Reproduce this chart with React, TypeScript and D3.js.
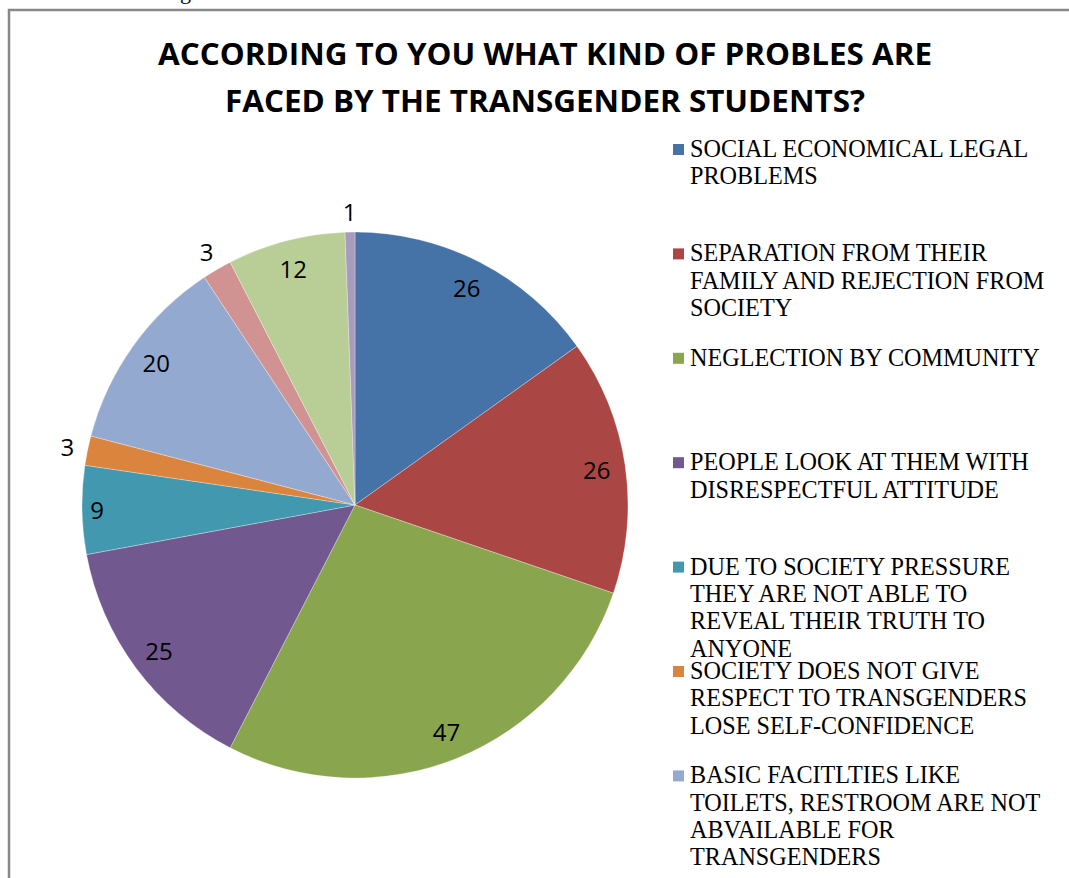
import React from "react";
import * as d3 from "d3";

const categories: string[] = [
  "SOCIAL ECONOMICAL LEGAL PROBLEMS",
  "SEPARATION FROM THEIR FAMILY AND REJECTION FROM SOCIETY",
  "NEGLECTION BY COMMUNITY",
  "PEOPLE LOOK AT THEM WITH DISRESPECTFUL ATTITUDE",
  "DUE TO SOCIETY PRESSURE THEY ARE NOT ABLE TO REVEAL THEIR TRUTH TO ANYONE",
  "SOCIETY DOES NOT GIVE RESPECT TO TRANSGENDERS LOSE SELF-CONFIDENCE",
  "BASIC FACITLTIES LIKE TOILETS, RESTROOM ARE NOT ABVAILABLE FOR TRANSGENDERS",
  "(not shown 8)",
  "(not shown 9)",
  "(not shown 10)",
];

// Legend lines as wrapped in the reference (only the first 7 fit in the legend)
const legendLines: string[][] = [
  ["SOCIAL ECONOMICAL LEGAL", "PROBLEMS"],
  ["SEPARATION FROM THEIR", "FAMILY AND REJECTION FROM", "SOCIETY"],
  ["NEGLECTION BY COMMUNITY"],
  ["PEOPLE LOOK AT THEM WITH", "DISRESPECTFUL ATTITUDE"],
  ["DUE TO SOCIETY PRESSURE", "THEY ARE NOT ABLE TO", "REVEAL THEIR TRUTH TO", "ANYONE"],
  ["SOCIETY DOES NOT GIVE", "RESPECT TO TRANSGENDERS", "LOSE SELF-CONFIDENCE"],
  ["BASIC FACITLTIES LIKE", "TOILETS, RESTROOM ARE NOT", "ABVAILABLE FOR", "TRANSGENDERS"],
];

const values: number[] = [26, 26, 47, 25, 9, 3, 20, 3, 12, 1];

const colors: string[] = [
  "#4572A7",
  "#AA4643",
  "#89A54E",
  "#71588F",
  "#4198AF",
  "#DB843D",
  "#93A9CF",
  "#D19392",
  "#B9CD96",
  "#A99BBD",
];

const titleLines: string[] = [
  "ACCORDING TO YOU WHAT KIND OF PROBLES ARE",
  "FACED BY THE TRANSGENDER  STUDENTS?",
];

export default function App() {
  const W = 1069;
  const H = 878;
  const cx = 355;
  const cy = 505;
  const r = 273;

  const data = categories.map((c, i) => ({ c, v: values[i], i }));
  const pie = d3
    .pie<{ c: string; v: number; i: number }>()
    .sort(null)
    .value((d) => d.v)
    .startAngle(0)
    .endAngle(2 * Math.PI);
  const arcs = pie(data);
  const arc = d3
    .arc<d3.PieArcDatum<{ c: string; v: number; i: number }>>()
    .innerRadius(0)
    .outerRadius(r);

  const labelR = (v: number) => (v < 5 ? r * 1.075 : v < 10 ? r * 0.945 : r * 0.895);

  const legendX = 673;
  const legendTop = 157;
  const legendStep = 104.4;
  const lineH = 27.3;

  return (
    <svg
      width={W}
      height={H}
      style={{ position: "absolute", left: 0, top: 0, background: "#fff" }}
    >
      <rect x={0} y={0} width={W} height={H} fill="#fff" />
      <text x={180} y={-1} fontFamily="'Liberation Serif', serif" fontSize={22} fill="#000">
        g
      </text>
      <rect x={9} y={10} width={1300} height={1000} fill="none" stroke="#888" strokeWidth={2.5} />

      {titleLines.map((t, i) => (
        <text
          key={i}
          x={545}
          y={65 + i * 47}
          textAnchor="middle"
          fontFamily="'Open Sans', sans-serif"
          fontWeight="bold"
          fontSize={31}
          textLength={i === 0 ? 774 : 640}
          lengthAdjust="spacingAndGlyphs"
          fill="#000"
        >
          {t}
        </text>
      ))}

      <g transform={`translate(${cx},${cy})`}>
        {arcs.map((a, i) => (
          <path
            key={i}
            d={arc(a) || ""}
            fill={colors[a.data.i]}
            stroke="#ffffff"
            strokeOpacity={0.5}
            strokeWidth={0.6}
          />
        ))}
        {arcs.map((a, i) => {
          const mid = (a.startAngle + a.endAngle) / 2;
          const lr = labelR(a.data.v);
          const x = lr * Math.sin(mid);
          const y = -lr * Math.cos(mid);
          return (
            <text
              key={"l" + i}
              x={x}
              y={y}
              textAnchor="middle"
              dominantBaseline="central"
              fontFamily="'Open Sans', sans-serif"
              fontSize={24}
              fill="#000"
            >
              {a.data.v}
            </text>
          );
        })}
      </g>

      {legendLines.map((lines, i) => {
        const by = legendTop + i * legendStep;
        return (
          <g key={"lg" + i}>
            <rect x={legendX} y={by - 13} width={11} height={11} fill={colors[i]} />
            {lines.map((ln, j) => (
              <text
                key={j}
                x={legendX + 17}
                y={by + j * lineH}
                fontFamily="'Liberation Serif', 'Times New Roman', serif"
                fontSize={24.2}
                fill="#000"
              >
                {ln}
              </text>
            ))}
          </g>
        );
      })}
    </svg>
  );
}
